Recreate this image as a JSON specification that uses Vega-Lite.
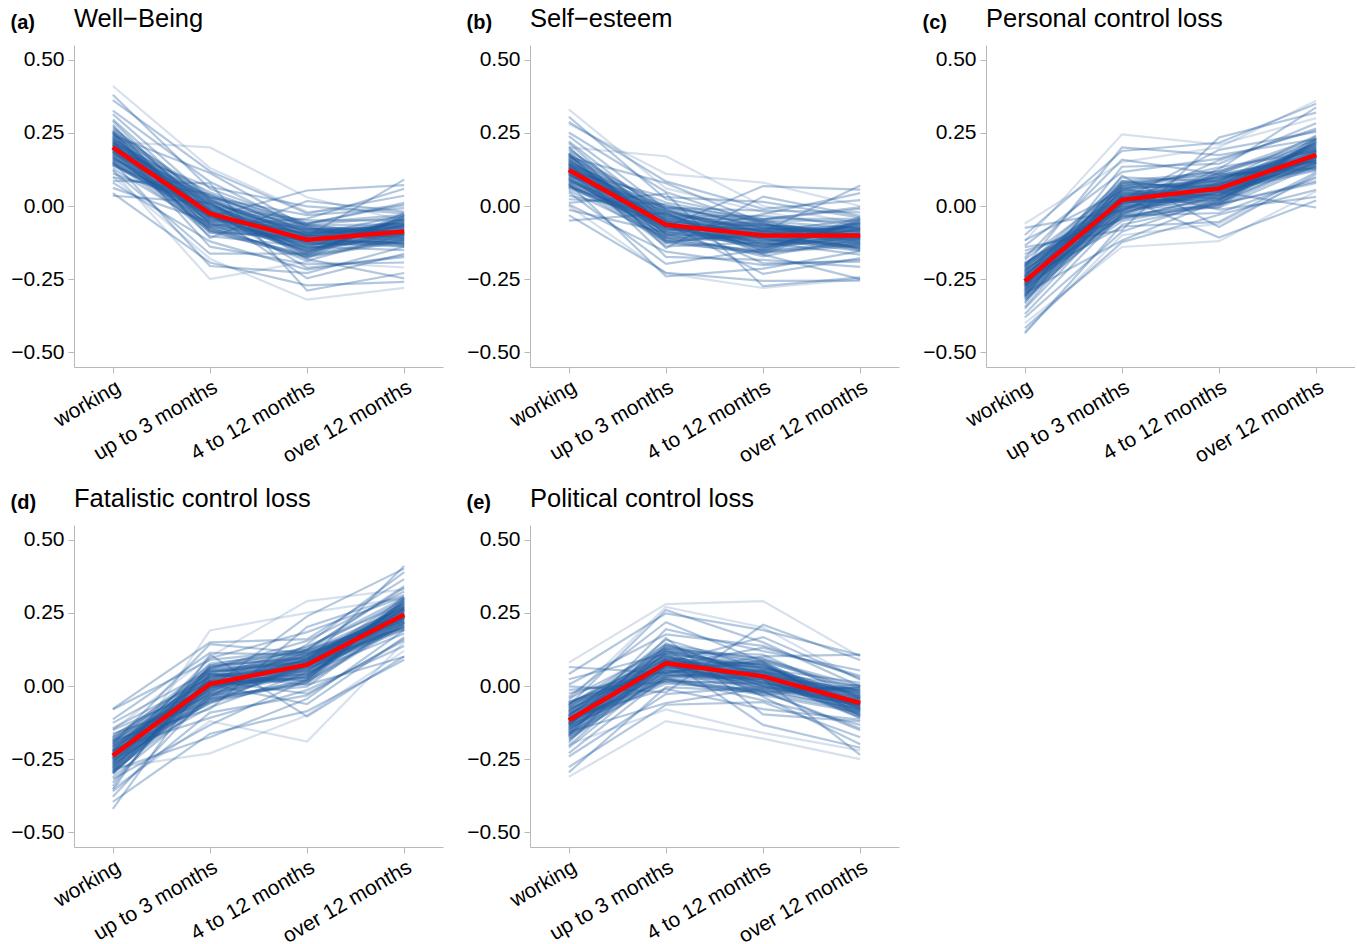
{
"$schema": "https://vega.github.io/schema/vega-lite/v6.json",
"padding": {"left": 10, "top": 6, "right": 0, "bottom": 0},
"datasets": {
"boot": [
{"p":"a","i":1,"w":0.200,"u":-0.013,"m":-0.121,"o":-0.067},
{"p":"a","i":2,"w":0.230,"u":-0.043,"m":-0.091,"o":-0.079},
{"p":"a","i":3,"w":0.164,"u":-0.019,"m":-0.145,"o":-0.109},
{"p":"a","i":4,"w":0.266,"u":0.017,"m":-0.103,"o":-0.031},
{"p":"a","i":5,"w":0.128,"u":-0.073,"m":-0.175,"o":-0.121},
{"p":"a","i":6,"w":0.218,"u":0.047,"m":-0.067,"o":-0.061},
{"p":"a","i":7,"w":0.188,"u":-0.103,"m":-0.139,"o":-0.151},
{"p":"a","i":8,"w":0.296,"u":-0.001,"m":-0.049,"o":-0.049},
{"p":"a","i":9,"w":0.110,"u":0.005,"m":-0.127,"o":-0.139},
{"p":"a","i":10,"w":0.248,"u":-0.061,"m":-0.187,"o":-0.097},
{"p":"a","i":11,"w":0.176,"u":0.029,"m":-0.031,"o":-0.007},
{"p":"a","i":12,"w":0.326,"u":0.083,"m":-0.079,"o":-0.073},
{"p":"a","i":13,"w":0.080,"u":-0.121,"m":-0.217,"o":-0.169},
{"p":"a","i":14,"w":0.206,"u":-0.031,"m":-0.097,"o":-0.103},
{"p":"a","i":15,"w":0.236,"u":-0.025,"m":-0.157,"o":-0.043},
{"p":"a","i":16,"w":0.146,"u":-0.049,"m":-0.079,"o":-0.085},
{"p":"a","i":17,"w":0.278,"u":-0.085,"m":-0.115,"o":-0.127},
{"p":"a","i":18,"w":0.194,"u":0.065,"m":-0.001,"o":-0.025},
{"p":"a","i":19,"w":0.224,"u":-0.139,"m":-0.199,"o":-0.193},
{"p":"a","i":20,"w":0.140,"u":-0.007,"m":-0.061,"o":0.011},
{"p":"a","i":21,"w":0.362,"u":0.119,"m":-0.025,"o":0.035},
{"p":"a","i":22,"w":0.044,"u":-0.193,"m":-0.271,"o":-0.259},
{"p":"a","i":23,"w":0.212,"u":0.011,"m":-0.169,"o":-0.115},
{"p":"a","i":24,"w":0.158,"u":-0.037,"m":-0.109,"o":-0.055},
{"p":"a","i":25,"w":0.314,"u":0.023,"m":-0.133,"o":-0.067},
{"p":"a","i":26,"w":0.098,"u":0.041,"m":-0.091,"o":-0.097},
{"p":"a","i":27,"w":0.254,"u":-0.109,"m":0.017,"o":-0.019},
{"p":"a","i":28,"w":0.182,"u":-0.025,"m":-0.247,"o":-0.163},
{"p":"a","i":29,"w":0.242,"u":0.113,"m":-0.073,"o":-0.133},
{"p":"a","i":30,"w":0.122,"u":-0.163,"m":-0.163,"o":-0.037},
{"p":"a","i":31,"w":0.272,"u":-0.013,"m":-0.211,"o":-0.175},
{"p":"a","i":32,"w":0.170,"u":-0.067,"m":-0.043,"o":0.059},
{"p":"a","i":33,"w":0.200,"u":0.035,"m":-0.085,"o":-0.091},
{"p":"a","i":34,"w":0.062,"u":-0.055,"m":-0.151,"o":-0.061},
{"p":"a","i":35,"w":0.380,"u":0.059,"m":-0.061,"o":0.005},
{"p":"a","i":36,"w":0.152,"u":-0.205,"m":-0.229,"o":-0.139},
{"p":"a","i":37,"w":0.290,"u":-0.037,"m":0.053,"o":0.071},
{"p":"a","i":38,"w":0.086,"u":0.077,"m":-0.289,"o":-0.229},
{"p":"a","i":39,"w":0.218,"u":-0.091,"m":-0.103,"o":0.090},
{"p":"a","i":40,"w":0.035,"u":0.011,"m":-0.181,"o":-0.247},
{"p":"a","i":41,"w":0.220,"u":0.200,"m":0.030,"o":-0.050},
{"p":"a","i":42,"w":0.120,"u":-0.250,"m":-0.190,"o":-0.210},
{"p":"a","i":43,"w":0.410,"u":0.130,"m":-0.020,"o":0.000},
{"p":"a","i":44,"w":0.100,"u":-0.180,"m":-0.320,"o":-0.280},
{"p":"a","i":101,"w":0.206,"u":-0.038,"m":-0.097,"o":-0.087},
{"p":"a","i":102,"w":0.182,"u":-0.002,"m":-0.121,"o":-0.075},
{"p":"a","i":103,"w":0.230,"u":-0.020,"m":-0.103,"o":-0.111},
{"p":"a","i":104,"w":0.170,"u":-0.044,"m":-0.139,"o":-0.099},
{"p":"a","i":105,"w":0.212,"u":0.010,"m":-0.085,"o":-0.063},
{"p":"a","i":106,"w":0.194,"u":-0.062,"m":-0.115,"o":-0.057},
{"p":"a","i":107,"w":0.242,"u":-0.032,"m":-0.133,"o":-0.081},
{"p":"a","i":108,"w":0.158,"u":-0.014,"m":-0.079,"o":-0.117},
{"p":"a","i":109,"w":0.200,"u":-0.026,"m":-0.151,"o":-0.093},
{"p":"a","i":110,"w":0.224,"u":0.022,"m":-0.109,"o":-0.051},
{"p":"a","i":111,"w":0.176,"u":-0.074,"m":-0.127,"o":-0.123},
{"p":"a","i":112,"w":0.254,"u":-0.008,"m":-0.091,"o":-0.069},
{"p":"a","i":113,"w":0.146,"u":-0.032,"m":-0.157,"o":-0.087},
{"p":"a","i":114,"w":0.218,"u":-0.050,"m":-0.067,"o":-0.105},
{"p":"a","i":115,"w":0.188,"u":0.004,"m":-0.145,"o":-0.045},
{"p":"a","i":116,"w":0.236,"u":-0.068,"m":-0.121,"o":-0.129},
{"p":"a","i":117,"w":0.164,"u":0.016,"m":-0.097,"o":-0.069},
{"p":"a","i":118,"w":0.212,"u":-0.026,"m":-0.163,"o":-0.039},
{"p":"a","i":119,"w":0.188,"u":0.028,"m":-0.073,"o":-0.093},
{"p":"a","i":120,"w":0.260,"u":-0.056,"m":-0.115,"o":-0.093},
{"p":"a","i":121,"w":0.140,"u":-0.020,"m":-0.103,"o":-0.135},
{"p":"a","i":122,"w":0.200,"u":-0.086,"m":-0.169,"o":-0.111},
{"p":"a","i":123,"w":0.248,"u":0.034,"m":-0.061,"o":-0.033},
{"p":"a","i":124,"w":0.152,"u":-0.080,"m":-0.175,"o":-0.027},
{"p":"b","i":1,"w":0.125,"u":-0.048,"m":-0.106,"o":-0.082},
{"p":"b","i":2,"w":0.155,"u":-0.078,"m":-0.076,"o":-0.094},
{"p":"b","i":3,"w":0.089,"u":-0.054,"m":-0.130,"o":-0.124},
{"p":"b","i":4,"w":0.191,"u":-0.018,"m":-0.088,"o":-0.046},
{"p":"b","i":5,"w":0.053,"u":-0.108,"m":-0.160,"o":-0.136},
{"p":"b","i":6,"w":0.143,"u":0.012,"m":-0.052,"o":-0.076},
{"p":"b","i":7,"w":0.113,"u":-0.138,"m":-0.124,"o":-0.166},
{"p":"b","i":8,"w":0.221,"u":-0.036,"m":-0.034,"o":-0.064},
{"p":"b","i":9,"w":0.035,"u":-0.030,"m":-0.112,"o":-0.154},
{"p":"b","i":10,"w":0.173,"u":-0.096,"m":-0.172,"o":-0.112},
{"p":"b","i":11,"w":0.101,"u":-0.006,"m":-0.016,"o":-0.022},
{"p":"b","i":12,"w":0.251,"u":0.048,"m":-0.064,"o":-0.088},
{"p":"b","i":13,"w":0.005,"u":-0.156,"m":-0.202,"o":-0.184},
{"p":"b","i":14,"w":0.131,"u":-0.066,"m":-0.082,"o":-0.118},
{"p":"b","i":15,"w":0.161,"u":-0.060,"m":-0.142,"o":-0.058},
{"p":"b","i":16,"w":0.071,"u":-0.084,"m":-0.064,"o":-0.100},
{"p":"b","i":17,"w":0.203,"u":-0.120,"m":-0.100,"o":-0.142},
{"p":"b","i":18,"w":0.119,"u":0.030,"m":0.014,"o":-0.040},
{"p":"b","i":19,"w":0.149,"u":-0.174,"m":-0.184,"o":-0.208},
{"p":"b","i":20,"w":0.065,"u":-0.042,"m":-0.046,"o":-0.004},
{"p":"b","i":21,"w":0.287,"u":0.084,"m":-0.010,"o":0.020},
{"p":"b","i":22,"w":-0.031,"u":-0.228,"m":-0.256,"o":-0.255},
{"p":"b","i":23,"w":0.137,"u":-0.024,"m":-0.154,"o":-0.130},
{"p":"b","i":24,"w":0.083,"u":-0.072,"m":-0.094,"o":-0.070},
{"p":"b","i":25,"w":0.239,"u":-0.012,"m":-0.118,"o":-0.082},
{"p":"b","i":26,"w":0.023,"u":0.006,"m":-0.076,"o":-0.112},
{"p":"b","i":27,"w":0.179,"u":-0.144,"m":0.032,"o":-0.034},
{"p":"b","i":28,"w":0.107,"u":-0.060,"m":-0.232,"o":-0.178},
{"p":"b","i":29,"w":0.167,"u":0.078,"m":-0.058,"o":-0.148},
{"p":"b","i":30,"w":0.047,"u":-0.198,"m":-0.148,"o":-0.052},
{"p":"b","i":31,"w":0.197,"u":-0.048,"m":-0.196,"o":-0.190},
{"p":"b","i":32,"w":0.095,"u":-0.102,"m":-0.028,"o":0.044},
{"p":"b","i":33,"w":0.125,"u":0.000,"m":-0.070,"o":-0.106},
{"p":"b","i":34,"w":-0.013,"u":-0.090,"m":-0.136,"o":-0.076},
{"p":"b","i":35,"w":0.305,"u":0.024,"m":-0.046,"o":-0.010},
{"p":"b","i":36,"w":0.077,"u":-0.240,"m":-0.214,"o":-0.154},
{"p":"b","i":37,"w":0.215,"u":-0.072,"m":0.068,"o":0.056},
{"p":"b","i":38,"w":0.011,"u":0.042,"m":-0.274,"o":-0.244},
{"p":"b","i":39,"w":0.143,"u":-0.126,"m":-0.088,"o":0.070},
{"p":"b","i":40,"w":-0.050,"u":-0.024,"m":-0.166,"o":-0.250},
{"p":"b","i":41,"w":0.200,"u":0.170,"m":0.000,"o":-0.060},
{"p":"b","i":42,"w":0.280,"u":0.110,"m":0.080,"o":0.000},
{"p":"b","i":43,"w":0.330,"u":0.060,"m":-0.020,"o":-0.080},
{"p":"b","i":44,"w":0.000,"u":-0.230,"m":-0.280,"o":-0.250},
{"p":"b","i":101,"w":0.129,"u":-0.076,"m":-0.083,"o":-0.101},
{"p":"b","i":102,"w":0.105,"u":-0.040,"m":-0.107,"o":-0.089},
{"p":"b","i":103,"w":0.153,"u":-0.058,"m":-0.089,"o":-0.125},
{"p":"b","i":104,"w":0.093,"u":-0.082,"m":-0.125,"o":-0.113},
{"p":"b","i":105,"w":0.135,"u":-0.028,"m":-0.071,"o":-0.077},
{"p":"b","i":106,"w":0.117,"u":-0.100,"m":-0.101,"o":-0.071},
{"p":"b","i":107,"w":0.165,"u":-0.070,"m":-0.119,"o":-0.095},
{"p":"b","i":108,"w":0.081,"u":-0.052,"m":-0.065,"o":-0.131},
{"p":"b","i":109,"w":0.123,"u":-0.064,"m":-0.137,"o":-0.107},
{"p":"b","i":110,"w":0.147,"u":-0.016,"m":-0.095,"o":-0.065},
{"p":"b","i":111,"w":0.099,"u":-0.112,"m":-0.113,"o":-0.137},
{"p":"b","i":112,"w":0.177,"u":-0.046,"m":-0.077,"o":-0.083},
{"p":"b","i":113,"w":0.069,"u":-0.070,"m":-0.143,"o":-0.101},
{"p":"b","i":114,"w":0.141,"u":-0.088,"m":-0.053,"o":-0.119},
{"p":"b","i":115,"w":0.111,"u":-0.034,"m":-0.131,"o":-0.059},
{"p":"b","i":116,"w":0.159,"u":-0.106,"m":-0.107,"o":-0.143},
{"p":"b","i":117,"w":0.087,"u":-0.022,"m":-0.083,"o":-0.083},
{"p":"b","i":118,"w":0.135,"u":-0.064,"m":-0.149,"o":-0.053},
{"p":"b","i":119,"w":0.111,"u":-0.010,"m":-0.059,"o":-0.107},
{"p":"b","i":120,"w":0.183,"u":-0.094,"m":-0.101,"o":-0.107},
{"p":"b","i":121,"w":0.063,"u":-0.058,"m":-0.089,"o":-0.149},
{"p":"b","i":122,"w":0.123,"u":-0.124,"m":-0.155,"o":-0.125},
{"p":"b","i":123,"w":0.171,"u":-0.004,"m":-0.047,"o":-0.047},
{"p":"b","i":124,"w":0.075,"u":-0.118,"m":-0.161,"o":-0.041},
{"p":"c","i":1,"w":-0.255,"u":0.008,"m":0.066,"o":0.157},
{"p":"c","i":2,"w":-0.285,"u":0.038,"m":0.036,"o":0.169},
{"p":"c","i":3,"w":-0.219,"u":0.014,"m":0.090,"o":0.199},
{"p":"c","i":4,"w":-0.321,"u":-0.022,"m":0.048,"o":0.121},
{"p":"c","i":5,"w":-0.183,"u":0.068,"m":0.120,"o":0.211},
{"p":"c","i":6,"w":-0.273,"u":-0.052,"m":0.012,"o":0.151},
{"p":"c","i":7,"w":-0.243,"u":0.098,"m":0.084,"o":0.241},
{"p":"c","i":8,"w":-0.351,"u":-0.004,"m":-0.006,"o":0.139},
{"p":"c","i":9,"w":-0.165,"u":-0.010,"m":0.072,"o":0.229},
{"p":"c","i":10,"w":-0.303,"u":0.056,"m":0.132,"o":0.187},
{"p":"c","i":11,"w":-0.231,"u":-0.034,"m":-0.024,"o":0.097},
{"p":"c","i":12,"w":-0.381,"u":-0.088,"m":0.024,"o":0.163},
{"p":"c","i":13,"w":-0.135,"u":0.116,"m":0.162,"o":0.259},
{"p":"c","i":14,"w":-0.261,"u":0.026,"m":0.042,"o":0.193},
{"p":"c","i":15,"w":-0.291,"u":0.020,"m":0.102,"o":0.133},
{"p":"c","i":16,"w":-0.201,"u":0.044,"m":0.024,"o":0.175},
{"p":"c","i":17,"w":-0.333,"u":0.080,"m":0.060,"o":0.217},
{"p":"c","i":18,"w":-0.249,"u":-0.070,"m":-0.054,"o":0.115},
{"p":"c","i":19,"w":-0.279,"u":0.134,"m":0.144,"o":0.283},
{"p":"c","i":20,"w":-0.195,"u":0.002,"m":0.006,"o":0.079},
{"p":"c","i":21,"w":-0.417,"u":-0.124,"m":-0.030,"o":0.055},
{"p":"c","i":22,"w":-0.099,"u":0.188,"m":0.216,"o":0.349},
{"p":"c","i":23,"w":-0.267,"u":-0.016,"m":0.114,"o":0.205},
{"p":"c","i":24,"w":-0.213,"u":0.032,"m":0.054,"o":0.145},
{"p":"c","i":25,"w":-0.369,"u":-0.028,"m":0.078,"o":0.157},
{"p":"c","i":26,"w":-0.153,"u":-0.046,"m":0.036,"o":0.187},
{"p":"c","i":27,"w":-0.309,"u":0.104,"m":-0.072,"o":0.109},
{"p":"c","i":28,"w":-0.237,"u":0.020,"m":0.192,"o":0.253},
{"p":"c","i":29,"w":-0.297,"u":-0.118,"m":0.018,"o":0.223},
{"p":"c","i":30,"w":-0.177,"u":0.158,"m":0.108,"o":0.127},
{"p":"c","i":31,"w":-0.327,"u":0.008,"m":0.156,"o":0.265},
{"p":"c","i":32,"w":-0.225,"u":0.062,"m":-0.012,"o":0.031},
{"p":"c","i":33,"w":-0.255,"u":-0.040,"m":0.030,"o":0.181},
{"p":"c","i":34,"w":-0.117,"u":0.050,"m":0.096,"o":0.151},
{"p":"c","i":35,"w":-0.435,"u":-0.064,"m":0.006,"o":0.085},
{"p":"c","i":36,"w":-0.207,"u":0.200,"m":0.174,"o":0.229},
{"p":"c","i":37,"w":-0.345,"u":0.032,"m":-0.108,"o":0.019},
{"p":"c","i":38,"w":-0.141,"u":-0.082,"m":0.234,"o":0.319},
{"p":"c","i":39,"w":-0.273,"u":0.086,"m":0.048,"o":-0.005},
{"p":"c","i":40,"w":-0.075,"u":-0.016,"m":0.126,"o":0.337},
{"p":"c","i":41,"w":-0.120,"u":0.245,"m":0.210,"o":0.300},
{"p":"c","i":42,"w":-0.400,"u":-0.140,"m":-0.120,"o":0.050},
{"p":"c","i":43,"w":-0.060,"u":0.150,"m":0.200,"o":0.360},
{"p":"c","i":44,"w":-0.430,"u":-0.100,"m":-0.060,"o":0.100},
{"p":"c","i":101,"w":-0.251,"u":0.009,"m":0.078,"o":0.175},
{"p":"c","i":102,"w":-0.275,"u":0.045,"m":0.054,"o":0.187},
{"p":"c","i":103,"w":-0.227,"u":0.027,"m":0.072,"o":0.151},
{"p":"c","i":104,"w":-0.287,"u":0.003,"m":0.036,"o":0.163},
{"p":"c","i":105,"w":-0.245,"u":0.057,"m":0.090,"o":0.199},
{"p":"c","i":106,"w":-0.263,"u":-0.015,"m":0.060,"o":0.205},
{"p":"c","i":107,"w":-0.215,"u":0.015,"m":0.042,"o":0.181},
{"p":"c","i":108,"w":-0.299,"u":0.033,"m":0.096,"o":0.145},
{"p":"c","i":109,"w":-0.257,"u":0.021,"m":0.024,"o":0.169},
{"p":"c","i":110,"w":-0.233,"u":0.069,"m":0.066,"o":0.211},
{"p":"c","i":111,"w":-0.281,"u":-0.027,"m":0.048,"o":0.139},
{"p":"c","i":112,"w":-0.203,"u":0.039,"m":0.084,"o":0.193},
{"p":"c","i":113,"w":-0.311,"u":0.015,"m":0.018,"o":0.175},
{"p":"c","i":114,"w":-0.239,"u":-0.003,"m":0.108,"o":0.157},
{"p":"c","i":115,"w":-0.269,"u":0.051,"m":0.030,"o":0.217},
{"p":"c","i":116,"w":-0.221,"u":-0.021,"m":0.054,"o":0.133},
{"p":"c","i":117,"w":-0.293,"u":0.063,"m":0.078,"o":0.193},
{"p":"c","i":118,"w":-0.245,"u":0.021,"m":0.012,"o":0.223},
{"p":"c","i":119,"w":-0.269,"u":0.075,"m":0.102,"o":0.169},
{"p":"c","i":120,"w":-0.197,"u":-0.009,"m":0.060,"o":0.169},
{"p":"c","i":121,"w":-0.317,"u":0.027,"m":0.072,"o":0.127},
{"p":"c","i":122,"w":-0.257,"u":-0.039,"m":0.006,"o":0.151},
{"p":"c","i":123,"w":-0.209,"u":0.081,"m":0.114,"o":0.229},
{"p":"c","i":124,"w":-0.305,"u":-0.033,"m":0.000,"o":0.235},
{"p":"d","i":1,"w":-0.240,"u":0.017,"m":0.064,"o":0.263},
{"p":"d","i":2,"w":-0.210,"u":-0.013,"m":0.094,"o":0.251},
{"p":"d","i":3,"w":-0.276,"u":0.011,"m":0.040,"o":0.221},
{"p":"d","i":4,"w":-0.174,"u":0.047,"m":0.082,"o":0.299},
{"p":"d","i":5,"w":-0.312,"u":-0.043,"m":0.010,"o":0.209},
{"p":"d","i":6,"w":-0.222,"u":0.077,"m":0.118,"o":0.269},
{"p":"d","i":7,"w":-0.252,"u":-0.073,"m":0.046,"o":0.179},
{"p":"d","i":8,"w":-0.144,"u":0.029,"m":0.136,"o":0.281},
{"p":"d","i":9,"w":-0.330,"u":0.035,"m":0.058,"o":0.191},
{"p":"d","i":10,"w":-0.192,"u":-0.031,"m":-0.002,"o":0.233},
{"p":"d","i":11,"w":-0.264,"u":0.059,"m":0.154,"o":0.323},
{"p":"d","i":12,"w":-0.114,"u":0.113,"m":0.106,"o":0.257},
{"p":"d","i":13,"w":-0.360,"u":-0.091,"m":-0.032,"o":0.161},
{"p":"d","i":14,"w":-0.234,"u":-0.001,"m":0.088,"o":0.227},
{"p":"d","i":15,"w":-0.204,"u":0.005,"m":0.028,"o":0.287},
{"p":"d","i":16,"w":-0.294,"u":-0.019,"m":0.106,"o":0.245},
{"p":"d","i":17,"w":-0.162,"u":-0.055,"m":0.070,"o":0.203},
{"p":"d","i":18,"w":-0.246,"u":0.095,"m":0.184,"o":0.305},
{"p":"d","i":19,"w":-0.216,"u":-0.109,"m":-0.014,"o":0.137},
{"p":"d","i":20,"w":-0.300,"u":0.023,"m":0.124,"o":0.341},
{"p":"d","i":21,"w":-0.078,"u":0.149,"m":0.160,"o":0.365},
{"p":"d","i":22,"w":-0.396,"u":-0.163,"m":-0.086,"o":0.090},
{"p":"d","i":23,"w":-0.228,"u":0.041,"m":0.016,"o":0.215},
{"p":"d","i":24,"w":-0.282,"u":-0.007,"m":0.076,"o":0.275},
{"p":"d","i":25,"w":-0.126,"u":0.053,"m":0.052,"o":0.263},
{"p":"d","i":26,"w":-0.342,"u":0.071,"m":0.094,"o":0.233},
{"p":"d","i":27,"w":-0.186,"u":-0.079,"m":0.202,"o":0.311},
{"p":"d","i":28,"w":-0.258,"u":0.005,"m":-0.062,"o":0.167},
{"p":"d","i":29,"w":-0.198,"u":0.143,"m":0.112,"o":0.197},
{"p":"d","i":30,"w":-0.318,"u":-0.133,"m":0.022,"o":0.293},
{"p":"d","i":31,"w":-0.168,"u":0.017,"m":-0.026,"o":0.155},
{"p":"d","i":32,"w":-0.270,"u":-0.037,"m":0.142,"o":0.389},
{"p":"d","i":33,"w":-0.240,"u":0.065,"m":0.100,"o":0.239},
{"p":"d","i":34,"w":-0.378,"u":-0.025,"m":0.034,"o":0.269},
{"p":"d","i":35,"w":-0.080,"u":0.089,"m":0.124,"o":0.335},
{"p":"d","i":36,"w":-0.288,"u":-0.175,"m":-0.044,"o":0.191},
{"p":"d","i":37,"w":-0.150,"u":-0.007,"m":0.238,"o":0.401},
{"p":"d","i":38,"w":-0.354,"u":0.107,"m":-0.104,"o":0.101},
{"p":"d","i":39,"w":-0.222,"u":-0.061,"m":0.082,"o":0.410},
{"p":"d","i":40,"w":-0.420,"u":0.041,"m":0.004,"o":0.100},
{"p":"d","i":41,"w":-0.280,"u":-0.230,"m":-0.100,"o":0.120},
{"p":"d","i":42,"w":-0.350,"u":-0.120,"m":-0.190,"o":0.150},
{"p":"d","i":43,"w":-0.150,"u":0.100,"m":0.290,"o":0.330},
{"p":"d","i":44,"w":-0.300,"u":0.190,"m":0.250,"o":0.300},
{"p":"d","i":101,"w":-0.232,"u":-0.005,"m":0.091,"o":0.244},
{"p":"d","i":102,"w":-0.256,"u":0.031,"m":0.067,"o":0.256},
{"p":"d","i":103,"w":-0.208,"u":0.013,"m":0.085,"o":0.220},
{"p":"d","i":104,"w":-0.268,"u":-0.011,"m":0.049,"o":0.232},
{"p":"d","i":105,"w":-0.226,"u":0.043,"m":0.103,"o":0.268},
{"p":"d","i":106,"w":-0.244,"u":-0.029,"m":0.073,"o":0.274},
{"p":"d","i":107,"w":-0.196,"u":0.001,"m":0.055,"o":0.250},
{"p":"d","i":108,"w":-0.280,"u":0.019,"m":0.109,"o":0.214},
{"p":"d","i":109,"w":-0.238,"u":0.007,"m":0.037,"o":0.238},
{"p":"d","i":110,"w":-0.214,"u":0.055,"m":0.079,"o":0.280},
{"p":"d","i":111,"w":-0.262,"u":-0.041,"m":0.061,"o":0.208},
{"p":"d","i":112,"w":-0.184,"u":0.025,"m":0.097,"o":0.262},
{"p":"d","i":113,"w":-0.292,"u":0.001,"m":0.031,"o":0.244},
{"p":"d","i":114,"w":-0.220,"u":-0.017,"m":0.121,"o":0.226},
{"p":"d","i":115,"w":-0.250,"u":0.037,"m":0.043,"o":0.286},
{"p":"d","i":116,"w":-0.202,"u":-0.035,"m":0.067,"o":0.202},
{"p":"d","i":117,"w":-0.274,"u":0.049,"m":0.091,"o":0.262},
{"p":"d","i":118,"w":-0.226,"u":0.007,"m":0.025,"o":0.292},
{"p":"d","i":119,"w":-0.250,"u":0.061,"m":0.115,"o":0.238},
{"p":"d","i":120,"w":-0.178,"u":-0.023,"m":0.073,"o":0.238},
{"p":"d","i":121,"w":-0.298,"u":0.013,"m":0.085,"o":0.196},
{"p":"d","i":122,"w":-0.238,"u":-0.053,"m":0.019,"o":0.220},
{"p":"d","i":123,"w":-0.190,"u":0.067,"m":0.127,"o":0.298},
{"p":"d","i":124,"w":-0.286,"u":-0.047,"m":0.013,"o":0.304},
{"p":"e","i":1,"w":-0.115,"u":0.068,"m":0.041,"o":-0.073},
{"p":"e","i":2,"w":-0.145,"u":0.098,"m":0.011,"o":-0.061},
{"p":"e","i":3,"w":-0.079,"u":0.074,"m":0.065,"o":-0.031},
{"p":"e","i":4,"w":-0.181,"u":0.038,"m":0.023,"o":-0.109},
{"p":"e","i":5,"w":-0.043,"u":0.128,"m":0.095,"o":-0.019},
{"p":"e","i":6,"w":-0.133,"u":0.008,"m":-0.013,"o":-0.079},
{"p":"e","i":7,"w":-0.103,"u":0.158,"m":0.059,"o":0.011},
{"p":"e","i":8,"w":-0.211,"u":0.056,"m":-0.031,"o":-0.091},
{"p":"e","i":9,"w":-0.025,"u":0.050,"m":0.047,"o":-0.001},
{"p":"e","i":10,"w":-0.163,"u":0.116,"m":0.107,"o":-0.043},
{"p":"e","i":11,"w":-0.091,"u":0.026,"m":-0.049,"o":-0.133},
{"p":"e","i":12,"w":-0.241,"u":-0.028,"m":-0.001,"o":-0.067},
{"p":"e","i":13,"w":0.005,"u":0.176,"m":0.137,"o":0.029},
{"p":"e","i":14,"w":-0.121,"u":0.086,"m":0.017,"o":-0.037},
{"p":"e","i":15,"w":-0.151,"u":0.080,"m":0.077,"o":-0.097},
{"p":"e","i":16,"w":-0.061,"u":0.104,"m":-0.001,"o":-0.055},
{"p":"e","i":17,"w":-0.193,"u":0.140,"m":0.035,"o":-0.013},
{"p":"e","i":18,"w":-0.109,"u":-0.010,"m":-0.079,"o":-0.115},
{"p":"e","i":19,"w":-0.139,"u":0.194,"m":0.119,"o":0.053},
{"p":"e","i":20,"w":-0.055,"u":0.062,"m":-0.019,"o":-0.151},
{"p":"e","i":21,"w":-0.277,"u":-0.064,"m":-0.055,"o":-0.175},
{"p":"e","i":22,"w":0.041,"u":0.248,"m":0.191,"o":0.105},
{"p":"e","i":23,"w":-0.127,"u":0.044,"m":0.089,"o":-0.025},
{"p":"e","i":24,"w":-0.073,"u":0.092,"m":0.029,"o":-0.085},
{"p":"e","i":25,"w":-0.229,"u":0.032,"m":0.053,"o":-0.073},
{"p":"e","i":26,"w":-0.013,"u":0.014,"m":0.011,"o":-0.043},
{"p":"e","i":27,"w":-0.169,"u":0.164,"m":-0.097,"o":-0.121},
{"p":"e","i":28,"w":-0.097,"u":0.080,"m":0.167,"o":0.023},
{"p":"e","i":29,"w":-0.157,"u":-0.058,"m":-0.007,"o":-0.007},
{"p":"e","i":30,"w":-0.037,"u":0.218,"m":0.083,"o":-0.103},
{"p":"e","i":31,"w":-0.187,"u":0.068,"m":0.131,"o":0.035},
{"p":"e","i":32,"w":-0.085,"u":0.122,"m":-0.037,"o":-0.199},
{"p":"e","i":33,"w":-0.115,"u":0.020,"m":0.005,"o":-0.049},
{"p":"e","i":34,"w":0.023,"u":0.110,"m":0.071,"o":-0.079},
{"p":"e","i":35,"w":-0.295,"u":-0.004,"m":-0.019,"o":-0.145},
{"p":"e","i":36,"w":-0.067,"u":0.260,"m":0.149,"o":-0.001},
{"p":"e","i":37,"w":-0.205,"u":0.092,"m":-0.133,"o":-0.211},
{"p":"e","i":38,"w":-0.001,"u":-0.022,"m":0.209,"o":0.089},
{"p":"e","i":39,"w":-0.133,"u":0.146,"m":0.023,"o":-0.235},
{"p":"e","i":40,"w":0.065,"u":0.044,"m":0.101,"o":0.107},
{"p":"e","i":41,"w":-0.310,"u":-0.120,"m":-0.180,"o":-0.250},
{"p":"e","i":42,"w":0.080,"u":0.280,"m":0.290,"o":0.100},
{"p":"e","i":43,"w":-0.050,"u":0.270,"m":0.200,"o":0.020},
{"p":"e","i":44,"w":-0.200,"u":-0.080,"m":-0.160,"o":-0.220},
{"p":"e","i":101,"w":-0.111,"u":0.066,"m":0.051,"o":-0.058},
{"p":"e","i":102,"w":-0.135,"u":0.102,"m":0.027,"o":-0.046},
{"p":"e","i":103,"w":-0.087,"u":0.084,"m":0.045,"o":-0.082},
{"p":"e","i":104,"w":-0.147,"u":0.060,"m":0.009,"o":-0.070},
{"p":"e","i":105,"w":-0.105,"u":0.114,"m":0.063,"o":-0.034},
{"p":"e","i":106,"w":-0.123,"u":0.042,"m":0.033,"o":-0.028},
{"p":"e","i":107,"w":-0.075,"u":0.072,"m":0.015,"o":-0.052},
{"p":"e","i":108,"w":-0.159,"u":0.090,"m":0.069,"o":-0.088},
{"p":"e","i":109,"w":-0.117,"u":0.078,"m":-0.003,"o":-0.064},
{"p":"e","i":110,"w":-0.093,"u":0.126,"m":0.039,"o":-0.022},
{"p":"e","i":111,"w":-0.141,"u":0.030,"m":0.021,"o":-0.094},
{"p":"e","i":112,"w":-0.063,"u":0.096,"m":0.057,"o":-0.040},
{"p":"e","i":113,"w":-0.171,"u":0.072,"m":-0.009,"o":-0.058},
{"p":"e","i":114,"w":-0.099,"u":0.054,"m":0.081,"o":-0.076},
{"p":"e","i":115,"w":-0.129,"u":0.108,"m":0.003,"o":-0.016},
{"p":"e","i":116,"w":-0.081,"u":0.036,"m":0.027,"o":-0.100},
{"p":"e","i":117,"w":-0.153,"u":0.120,"m":0.051,"o":-0.040},
{"p":"e","i":118,"w":-0.105,"u":0.078,"m":-0.015,"o":-0.010},
{"p":"e","i":119,"w":-0.129,"u":0.132,"m":0.075,"o":-0.064},
{"p":"e","i":120,"w":-0.057,"u":0.048,"m":0.033,"o":-0.064},
{"p":"e","i":121,"w":-0.177,"u":0.084,"m":0.045,"o":-0.106},
{"p":"e","i":122,"w":-0.117,"u":0.018,"m":-0.021,"o":-0.082},
{"p":"e","i":123,"w":-0.069,"u":0.138,"m":0.087,"o":-0.004},
{"p":"e","i":124,"w":-0.165,"u":0.024,"m":-0.027,"o":0.002}
],
"mean": [
{"p":"a","k":"w","v":0.200},{"p":"a","k":"u","v":-0.026},{"p":"a","k":"m","v":-0.115},{"p":"a","k":"o","v":-0.087},
{"p":"b","k":"w","v":0.123},{"p":"b","k":"u","v":-0.064},{"p":"b","k":"m","v":-0.101},{"p":"b","k":"o","v":-0.101},
{"p":"c","k":"w","v":-0.257},{"p":"c","k":"u","v":0.021},{"p":"c","k":"m","v":0.060},{"p":"c","k":"o","v":0.175},
{"p":"d","k":"w","v":-0.238},{"p":"d","k":"u","v":0.007},{"p":"d","k":"m","v":0.073},{"p":"d","k":"o","v":0.244},
{"p":"e","k":"w","v":-0.117},{"p":"e","k":"u","v":0.078},{"p":"e","k":"m","v":0.033},{"p":"e","k":"o","v":-0.058}
]
},
"columns": 3,
"bounds": "flush",
"spacing": {"row": 158, "column": 87},
"concat": [
{"width": 369, "height": 322, "title": {"text": "Well−Being"},
 "encoding": {
  "x": {"field": "k", "type": "ordinal", "sort": ["w","u","m","o"], "scale": {"type": "point", "padding": 0.4}, "axis": {"title": null, "labelExpr": "datum.value == 'w' ? 'working' : datum.value == 'u' ? 'up to 3 months' : datum.value == 'm' ? '4 to 12 months' : 'over 12 months'"}},
  "y": {"field": "v", "type": "quantitative", "scale": {"domain": [-0.55, 0.55], "nice": false, "zero": false}, "axis": {"values": [-0.5,-0.25,0,0.25,0.5], "format": ".2f", "title": "(a)"}}
 },
 "layer": [
  {"data": {"name": "boot"}, "transform": [{"filter": "datum.p == 'a'"}, {"fold": ["w","u","m","o"], "as": ["k","v"]}], "mark": {"type": "line", "color": "#1f5b9f"}, "encoding": {"detail": {"field": "i", "type": "nominal"}, "opacity": {"condition": {"test": "datum.i > 40 && datum.i < 100", "value": 0.18}, "value": 0.34}, "strokeWidth": {"condition": {"test": "datum.i > 100", "value": 4}, "value": 2.2}}},
  {"data": {"name": "mean"}, "transform": [{"filter": "datum.p == 'a'"}], "mark": {"type": "line", "color": "#ff0000", "strokeWidth": 4.5}, "encoding": {}}
 ]},
{"width": 369, "height": 322, "title": {"text": "Self−esteem"},
 "encoding": {
  "x": {"field": "k", "type": "ordinal", "sort": ["w","u","m","o"], "scale": {"type": "point", "padding": 0.4}, "axis": {"title": null, "labelExpr": "datum.value == 'w' ? 'working' : datum.value == 'u' ? 'up to 3 months' : datum.value == 'm' ? '4 to 12 months' : 'over 12 months'"}},
  "y": {"field": "v", "type": "quantitative", "scale": {"domain": [-0.55, 0.55], "nice": false, "zero": false}, "axis": {"values": [-0.5,-0.25,0,0.25,0.5], "format": ".2f", "title": "(b)"}}
 },
 "layer": [
  {"data": {"name": "boot"}, "transform": [{"filter": "datum.p == 'b'"}, {"fold": ["w","u","m","o"], "as": ["k","v"]}], "mark": {"type": "line", "color": "#1f5b9f"}, "encoding": {"detail": {"field": "i", "type": "nominal"}, "opacity": {"condition": {"test": "datum.i > 40 && datum.i < 100", "value": 0.18}, "value": 0.34}, "strokeWidth": {"condition": {"test": "datum.i > 100", "value": 4}, "value": 2.2}}},
  {"data": {"name": "mean"}, "transform": [{"filter": "datum.p == 'b'"}], "mark": {"type": "line", "color": "#ff0000", "strokeWidth": 4.5}, "encoding": {}}
 ]},
{"width": 369, "height": 322, "title": {"text": "Personal control loss"},
 "encoding": {
  "x": {"field": "k", "type": "ordinal", "sort": ["w","u","m","o"], "scale": {"type": "point", "padding": 0.4}, "axis": {"title": null, "labelExpr": "datum.value == 'w' ? 'working' : datum.value == 'u' ? 'up to 3 months' : datum.value == 'm' ? '4 to 12 months' : 'over 12 months'"}},
  "y": {"field": "v", "type": "quantitative", "scale": {"domain": [-0.55, 0.55], "nice": false, "zero": false}, "axis": {"values": [-0.5,-0.25,0,0.25,0.5], "format": ".2f", "title": "(c)"}}
 },
 "layer": [
  {"data": {"name": "boot"}, "transform": [{"filter": "datum.p == 'c'"}, {"fold": ["w","u","m","o"], "as": ["k","v"]}], "mark": {"type": "line", "color": "#1f5b9f"}, "encoding": {"detail": {"field": "i", "type": "nominal"}, "opacity": {"condition": {"test": "datum.i > 40 && datum.i < 100", "value": 0.18}, "value": 0.34}, "strokeWidth": {"condition": {"test": "datum.i > 100", "value": 4}, "value": 2.2}}},
  {"data": {"name": "mean"}, "transform": [{"filter": "datum.p == 'c'"}], "mark": {"type": "line", "color": "#ff0000", "strokeWidth": 4.5}, "encoding": {}}
 ]},
{"width": 369, "height": 322, "title": {"text": "Fatalistic control loss"},
 "encoding": {
  "x": {"field": "k", "type": "ordinal", "sort": ["w","u","m","o"], "scale": {"type": "point", "padding": 0.4}, "axis": {"title": null, "labelExpr": "datum.value == 'w' ? 'working' : datum.value == 'u' ? 'up to 3 months' : datum.value == 'm' ? '4 to 12 months' : 'over 12 months'"}},
  "y": {"field": "v", "type": "quantitative", "scale": {"domain": [-0.55, 0.55], "nice": false, "zero": false}, "axis": {"values": [-0.5,-0.25,0,0.25,0.5], "format": ".2f", "title": "(d)"}}
 },
 "layer": [
  {"data": {"name": "boot"}, "transform": [{"filter": "datum.p == 'd'"}, {"fold": ["w","u","m","o"], "as": ["k","v"]}], "mark": {"type": "line", "color": "#1f5b9f"}, "encoding": {"detail": {"field": "i", "type": "nominal"}, "opacity": {"condition": {"test": "datum.i > 40 && datum.i < 100", "value": 0.18}, "value": 0.34}, "strokeWidth": {"condition": {"test": "datum.i > 100", "value": 4}, "value": 2.2}}},
  {"data": {"name": "mean"}, "transform": [{"filter": "datum.p == 'd'"}], "mark": {"type": "line", "color": "#ff0000", "strokeWidth": 4.5}, "encoding": {}}
 ]},
{"width": 369, "height": 322, "title": {"text": "Political control loss"},
 "encoding": {
  "x": {"field": "k", "type": "ordinal", "sort": ["w","u","m","o"], "scale": {"type": "point", "padding": 0.4}, "axis": {"title": null, "labelExpr": "datum.value == 'w' ? 'working' : datum.value == 'u' ? 'up to 3 months' : datum.value == 'm' ? '4 to 12 months' : 'over 12 months'"}},
  "y": {"field": "v", "type": "quantitative", "scale": {"domain": [-0.55, 0.55], "nice": false, "zero": false}, "axis": {"values": [-0.5,-0.25,0,0.25,0.5], "format": ".2f", "title": "(e)"}}
 },
 "layer": [
  {"data": {"name": "boot"}, "transform": [{"filter": "datum.p == 'e'"}, {"fold": ["w","u","m","o"], "as": ["k","v"]}], "mark": {"type": "line", "color": "#1f5b9f"}, "encoding": {"detail": {"field": "i", "type": "nominal"}, "opacity": {"condition": {"test": "datum.i > 40 && datum.i < 100", "value": 0.18}, "value": 0.34}, "strokeWidth": {"condition": {"test": "datum.i > 100", "value": 4}, "value": 2.2}}},
  {"data": {"name": "mean"}, "transform": [{"filter": "datum.p == 'e'"}], "mark": {"type": "line", "color": "#ff0000", "strokeWidth": 4.5}, "encoding": {}}
 ]}
],
"config": {
 "view": {"stroke": null},
 "font": "Liberation Sans",
 "axis": {"grid": false, "domainColor": "#b8b8b8", "tickColor": "#b8b8b8", "tickSize": 6, "labelColor": "#000000", "labelFontSize": 21, "labelFont": "Liberation Sans", "labelPadding": 4},
 "axisX": {"labelAngle": -30, "labelPadding": 3},
 "axisY": {"titleAngle": 0, "titleAlign": "left", "titleBaseline": "alphabetic", "titleX": -64, "titleY": -17, "titleFontSize": 20, "titleFontWeight": "bold", "titleFont": "Liberation Sans", "titleColor": "#000000"},
 "title": {"fontSize": 25.5, "font": "Liberation Sans", "fontWeight": "normal", "anchor": "start", "frame": "group", "color": "#000000", "baseline": "alphabetic", "offset": 17, "dy": 37}
}
}
